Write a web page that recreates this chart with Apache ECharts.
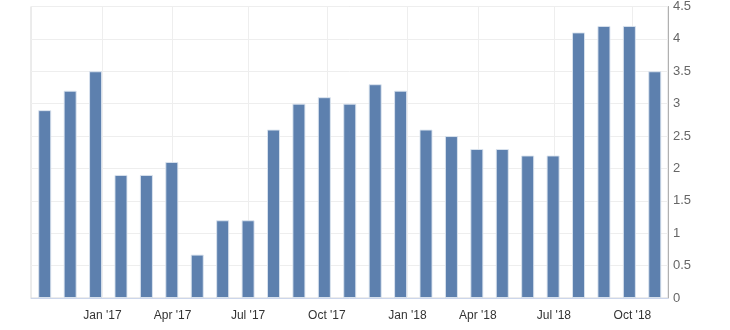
<!DOCTYPE html>
<html>
<head>
<meta charset="utf-8">
<script src="https://cdn.jsdelivr.net/npm/echarts@6/dist/echarts.min.js"></script>
<style>
html,body{margin:0;padding:0;background:#fff;}
#chart{width:730px;height:330px;}
</style>
</head>
<body>
<div id="chart"></div>
<script>
// Monthly observations, Oct 2016 .. Oct 2018
const months = ['2016-10','2016-11','2016-12','2017-01','2017-02','2017-03','2017-04','2017-05','2017-06','2017-07','2017-08','2017-09','2017-10','2017-11','2017-12','2018-01','2018-02','2018-03','2018-04','2018-05','2018-06','2018-07','2018-08','2018-09','2018-10'];
const values = [2.9, 3.2, 3.5, 1.9, 1.9, 2.1, 0.67, 1.2, 1.2, 2.6, 3.0, 3.1, 3.0, 3.3, 3.2, 2.6, 2.5, 2.3, 2.3, 2.2, 2.2, 4.1, 4.2, 4.2, 3.5];
// x-axis tick labels and where they fall along the (ordinal) point index
const tickLabels = ["Jan '17", "Apr '17", "Jul '17", "Oct '17", "Jan '18", "Apr '18", "Jul '18", "Oct '18"];
const tickIndex = [2.27, 5.03, 8.0, 11.1, 14.27, 17.04, 20.03, 23.12];
const yMin = 0, yMax = 4.5, yStep = 0.5;

const chart = echarts.init(document.getElementById('chart'));
const font = 'Liberation Sans, Arial, sans-serif';
chart.setOption({
  animation: false,
  backgroundColor: '#ffffff',
  grid: { left: 31, right: 62, top: 6, bottom: 32, show: true, borderColor: '#d8d8d8', borderWidth: 1 },
  xAxis: {
    type: 'value',
    min: -0.54,
    max: 24.52,
    axisLine: { show: true, onZero: false, lineStyle: { color: '#ccd6eb', width: 1 } },
    axisTick: { show: false, customValues: tickIndex },
    splitLine: { show: true, lineStyle: { color: '#eeeeee', width: 1 } },
    axisLabel: {
      customValues: tickIndex,
      color: '#333333', fontSize: 12, fontFamily: font, margin: 12,
      formatter: function (v) {
        let best = 0;
        for (let i = 0; i < tickIndex.length; i++) if (Math.abs(tickIndex[i] - v) < Math.abs(tickIndex[best] - v)) best = i;
        return tickLabels[best];
      }
    }
  },
  yAxis: {
    type: 'value',
    position: 'right',
    min: yMin, max: yMax, interval: yStep,
    axisLine: { show: true, onZero: false, lineStyle: { color: '#b0b0b0', width: 1 } },
    axisTick: { show: false },
    splitLine: { show: true, lineStyle: { color: '#eeeeee', width: 1 } },
    axisLabel: { color: '#666666', fontSize: 13, fontFamily: font, margin: 5 }
  },
  series: [{
    type: 'bar',
    name: 'value',
    data: values.map((v, i) => [i, v]),
    barWidth: 13,
    itemStyle: { color: '#5d80ae', borderColor: 'rgba(220,228,240,0.9)', borderWidth: 1 }
  }]
});
</script>
</body>
</html>
